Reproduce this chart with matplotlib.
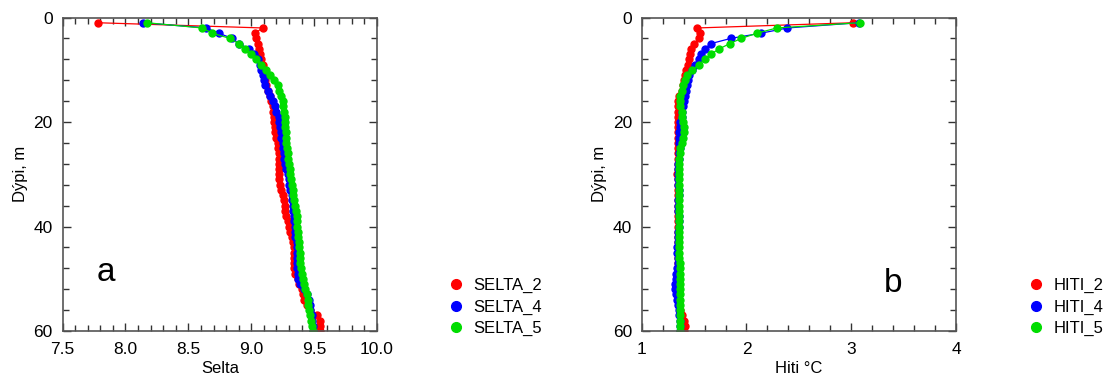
import matplotlib
matplotlib.use("Agg")
import matplotlib.pyplot as plt
from matplotlib.ticker import MultipleLocator

plt.rcParams['font.family'] = ['Liberation Sans', 'DejaVu Sans']

depth = list(range(1, 61))

selta_2 = [7.78, 9.09, 9.03, 9.04, 9.05, 9.06, 9.07, 9.08, 9.09, 9.09,
           9.10, 9.11, 9.12, 9.13, 9.15, 9.16, 9.17, 9.17, 9.18, 9.18,
           9.19, 9.19, 9.20, 9.21, 9.21, 9.22, 9.22, 9.22, 9.22, 9.22,
           9.22, 9.23, 9.24, 9.25, 9.26, 9.27, 9.27, 9.28, 9.29, 9.30,
           9.31, 9.32, 9.33, 9.34, 9.34, 9.34, 9.34, 9.34, 9.35, 9.37,
           9.38, 9.40, 9.41, 9.42, 9.44, 9.47, 9.52, 9.55, 9.55, 9.55]
selta_4 = [8.14, 8.64, 8.74, 8.85, 8.90, 8.98, 9.02, 9.05, 9.07, 9.08,
           9.09, 9.10, 9.11, 9.13, 9.15, 9.17, 9.19, 9.20, 9.22, 9.22,
           9.23, 9.24, 9.24, 9.25, 9.25, 9.26, 9.26, 9.27, 9.28, 9.29,
           9.30, 9.30, 9.31, 9.32, 9.32, 9.33, 9.33, 9.34, 9.34, 9.35,
           9.35, 9.35, 9.36, 9.36, 9.36, 9.36, 9.36, 9.36, 9.37, 9.37,
           9.39, 9.42, 9.44, 9.46, 9.47, 9.47, 9.48, 9.48, 9.49, 9.49]
selta_5 = [8.17, 8.61, 8.69, 8.83, 8.90, 8.95, 9.00, 9.04, 9.08, 9.12,
           9.15, 9.18, 9.21, 9.22, 9.24, 9.25, 9.255, 9.26, 9.265, 9.27,
           9.27, 9.275, 9.28, 9.28, 9.285, 9.29, 9.295, 9.30, 9.305, 9.31,
           9.315, 9.32, 9.33, 9.335, 9.34, 9.35, 9.355, 9.36, 9.36, 9.365,
           9.37, 9.375, 9.38, 9.38, 9.385, 9.39, 9.39, 9.395, 9.40, 9.41,
           9.42, 9.43, 9.445, 9.45, 9.455, 9.46, 9.47, 9.475, 9.48, 9.49]

hiti_2 = [3.02, 1.53, 1.56, 1.55, 1.50, 1.47, 1.46, 1.455, 1.445, 1.42,
          1.41, 1.40, 1.39, 1.38, 1.36, 1.345, 1.345, 1.345, 1.345, 1.345,
          1.345, 1.35, 1.35, 1.345, 1.35, 1.35, 1.35, 1.345, 1.345, 1.34,
          1.345, 1.345, 1.345, 1.35, 1.35, 1.35, 1.35, 1.345, 1.345, 1.35,
          1.35, 1.35, 1.35, 1.35, 1.345, 1.35, 1.35, 1.35, 1.35, 1.35,
          1.35, 1.345, 1.35, 1.35, 1.36, 1.37, 1.38, 1.40, 1.41, 1.40]
hiti_4 = [3.07, 2.39, 2.14, 1.85, 1.66, 1.60, 1.57, 1.55, 1.51, 1.48,
          1.455, 1.44, 1.43, 1.42, 1.41, 1.40, 1.39, 1.38, 1.38, 1.37,
          1.37, 1.36, 1.36, 1.36, 1.37, 1.36, 1.36, 1.35, 1.35, 1.35,
          1.35, 1.35, 1.36, 1.36, 1.35, 1.35, 1.35, 1.36, 1.36, 1.36,
          1.35, 1.35, 1.35, 1.34, 1.34, 1.35, 1.35, 1.34, 1.33, 1.33,
          1.32, 1.32, 1.33, 1.34, 1.35, 1.36, 1.36, 1.37, 1.37, 1.37]
hiti_5 = [3.08, 2.29, 2.10, 1.95, 1.84, 1.74, 1.66, 1.60, 1.55, 1.48,
          1.43, 1.41, 1.39, 1.38, 1.37, 1.365, 1.37, 1.38, 1.38, 1.39,
          1.40, 1.40, 1.39, 1.38, 1.37, 1.37, 1.36, 1.36, 1.36, 1.36,
          1.36, 1.36, 1.36, 1.36, 1.36, 1.36, 1.36, 1.36, 1.36, 1.36,
          1.36, 1.36, 1.36, 1.36, 1.36, 1.36, 1.37, 1.37, 1.37, 1.37,
          1.37, 1.37, 1.37, 1.37, 1.37, 1.37, 1.37, 1.37, 1.37, 1.37]

colors = ['#ff0000', '#0000ff', '#00dd00']
labels_a = ['SELTA_2', 'SELTA_4', 'SELTA_5']
labels_b = ['HITI_2', 'HITI_4', 'HITI_5']

fig = plt.figure(figsize=(11.07, 3.79), dpi=100)
ax1 = fig.add_axes([0.0565, 0.1266, 0.2841, 0.8272])
ax2 = fig.add_axes([0.5797, 0.1266, 0.2839, 0.8272])

def style(ax, xmaj, xmin):
    ax.set_ylim(60, 0)
    ax.yaxis.set_major_locator(MultipleLocator(20))
    ax.yaxis.set_minor_locator(MultipleLocator(4))
    ax.xaxis.set_major_locator(MultipleLocator(xmaj))
    ax.xaxis.set_minor_locator(MultipleLocator(xmin))
    ax.tick_params(which='both', direction='in', top=True, right=True,
                   labelsize=12.5, color='#333333')
    ax.tick_params(axis='x', which='both', pad=8)
    ax.tick_params(axis='y', which='both', pad=7)
    ax.tick_params(which='major', length=6, width=1)
    ax.tick_params(which='minor', length=4, width=1)
    for s in ax.spines.values():
        s.set_color('#555555')
        s.set_linewidth(1.2)
    ax.set_ylabel('Dýpi, m', fontsize=12, labelpad=4)

for vals, c, lab in zip([selta_2, selta_4, selta_5], colors, labels_a):
    ax1.plot(vals, depth, '-o', color=c, lw=0.9, ms=5, mec=c, label=lab)
for vals, c, lab in zip([hiti_2, hiti_4, hiti_5], colors, labels_b):
    ax2.plot(vals, depth, '-o', color=c, lw=0.9, ms=5, mec=c, label=lab)

ax1.set_xlim(7.5, 10.0)
style(ax1, 0.5, 0.1)
ax1.set_xticks([7.5, 8.0, 8.5, 9.0, 9.5, 10.0])
ax1.set_xticklabels(['7.5', '8.0', '8.5', '9.0', '9.5', '10.0'])
ax1.set_xlabel('Selta', fontsize=12, labelpad=3)

ax2.set_xlim(1, 4)
style(ax2, 1, 0.2)
ax2.set_xlabel('Hiti °C', fontsize=12, labelpad=3)

ax1.text(7.846, 50.5, 'a', fontsize=24, ha='center', va='baseline')
ax2.text(3.40, 52.5, 'b', fontsize=24, ha='center', va='baseline')

leg_kw = dict(frameon=False, fontsize=12, handlelength=0.6, handletextpad=0.75,
              labelspacing=0.38, borderpad=0, borderaxespad=0, loc='upper left')
h1, l1 = ax1.get_legend_handles_labels()
lg1 = fig.legend(h1, l1, bbox_to_anchor=(0.4075, 0.266), **leg_kw)
h2, l2 = ax2.get_legend_handles_labels()
lg2 = fig.legend(h2, l2, bbox_to_anchor=(0.9315, 0.266), **leg_kw)
for lg in (lg1, lg2):
    for line in lg.get_lines():
        line.set_linestyle('none')
        line.set_markersize(7)

fig.savefig('out.png', dpi=100)
